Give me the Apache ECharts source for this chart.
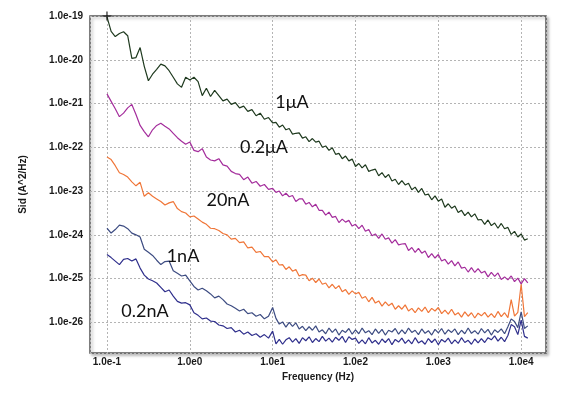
<!DOCTYPE html>
<html>
<head>
<meta charset="utf-8">
<script src="https://cdn.jsdelivr.net/npm/echarts@6/dist/echarts.min.js"></script>
<style>
  html, body { margin: 0; background: #fff; }
  #chart { width: 581px; height: 398px; }
</style>
</head>
<body>
<div id="chart"></div>
<script>
// x: log10 of frequency (Hz)
const logFreq = [
  -1.00,-0.95,-0.90,-0.85,-0.80,-0.75,-0.70,-0.65,-0.60,-0.55,-0.50,-0.45,-0.40,-0.35,-0.30,-0.25,-0.20,-0.15,-0.10,-0.05,
  0.00,0.05,0.10,0.15,0.20,0.25,0.30,0.35,0.40,0.45,0.50,0.55,0.60,0.65,0.70,0.75,0.80,0.85,0.90,0.95,1.00,
  1.04,1.08,1.12,1.16,1.20,1.24,1.28,1.32,1.36,1.40,1.44,1.48,1.52,1.56,1.60,1.64,1.68,1.72,1.76,1.80,
  1.84,1.88,1.92,1.96,2.00,2.04,2.08,2.12,2.16,2.20,2.24,2.28,2.32,2.36,2.40,2.44,2.48,2.52,2.56,2.60,
  2.64,2.68,2.72,2.76,2.80,2.84,2.88,2.92,2.96,3.00,3.04,3.08,3.12,3.16,3.20,3.24,3.28,3.32,3.36,3.40,
  3.44,3.48,3.52,3.56,3.60,3.64,3.68,3.72,3.76,3.80,3.84,3.88,3.92,3.96,4.00,4.04,4.08
];

// y: log10 of Sid (A^2/Hz), one array per bias current
const sid1uA = [
  -19.02,-19.35,-19.47,-19.40,-19.36,-19.45,-19.97,-19.95,-19.72,-20.15,-20.48,-20.33,-20.22,-20.10,-20.14,-20.25,-20.40,-20.55,-20.63,-20.40,
  -20.46,-20.40,-20.50,-20.82,-20.65,-20.84,-20.70,-20.82,-20.94,-20.90,-21.02,-20.98,-21.10,-21.06,-21.18,-21.14,-21.28,-21.22,-21.36,-21.32,-21.44,
  -21.43,-21.54,-21.49,-21.60,-21.57,-21.70,-21.68,-21.67,-21.79,-21.76,-21.87,-21.80,-21.88,-21.86,-22.00,-21.97,-22.07,-22.01,-22.16,-22.14,
  -22.26,-22.20,-22.31,-22.27,-22.44,-22.37,-22.47,-22.40,-22.55,-22.52,-22.50,-22.65,-22.58,-22.69,-22.62,-22.77,-22.73,-22.85,-22.76,-22.86,
  -22.82,-22.97,-22.91,-23.03,-22.94,-23.09,-23.07,-23.20,-23.11,-23.23,-23.18,-23.37,-23.29,-23.39,-23.34,-23.49,-23.44,-23.56,-23.48,-23.59,
  -23.52,-23.66,-23.65,-23.76,-23.66,-23.79,-23.73,-23.85,-23.74,-23.86,-23.83,-23.99,-23.92,-24.05,-23.98,-24.12,-24.09
];
const sid02uA = [
  -20.78,-20.95,-21.12,-21.30,-21.22,-21.10,-21.02,-21.25,-21.50,-21.64,-21.76,-21.60,-21.50,-21.45,-21.52,-21.58,-21.68,-21.78,-21.86,-21.93,
  -21.88,-22.07,-22.10,-22.03,-22.22,-22.29,-22.31,-22.26,-22.40,-22.43,-22.55,-22.60,-22.62,-22.74,-22.68,-22.82,-22.78,-22.89,-22.85,-22.96,-22.94,
  -23.03,-23.00,-23.11,-23.05,-23.13,-23.10,-23.24,-23.18,-23.18,-23.30,-23.26,-23.36,-23.30,-23.44,-23.44,-23.55,-23.48,-23.60,-23.58,-23.72,
  -23.64,-23.71,-23.67,-23.80,-23.76,-23.86,-23.78,-23.92,-23.88,-24.02,-23.98,-24.08,-23.98,-24.10,-24.07,-24.19,-24.11,-24.23,-24.21,-24.20,
  -24.36,-24.29,-24.40,-24.31,-24.42,-24.37,-24.52,-24.43,-24.53,-24.45,-24.60,-24.56,-24.67,-24.59,-24.71,-24.62,-24.76,-24.74,-24.85,-24.75,
  -24.86,-24.77,-24.87,-24.83,-24.96,-24.86,-24.95,-24.87,-25.02,-24.96,-25.03,-24.94,-25.07,-24.99,-25.12,-25.00,-25.10
];
const sid20nA = [
  -22.22,-22.28,-22.42,-22.58,-22.62,-22.68,-22.79,-22.88,-22.80,-23.12,-23.04,-23.12,-23.18,-23.24,-23.32,-23.27,-23.24,-23.40,-23.47,-23.50,
  -23.59,-23.57,-23.64,-23.71,-23.76,-23.85,-23.86,-23.90,-23.97,-24.00,-24.10,-24.08,-24.18,-24.16,-24.30,-24.28,-24.40,-24.38,-24.50,-24.50,-24.62,
  -24.57,-24.69,-24.68,-24.79,-24.73,-24.83,-24.79,-24.94,-24.91,-24.92,-25.05,-24.99,-25.09,-25.01,-25.13,-25.10,-25.21,-25.13,-25.23,-25.16,
  -25.30,-25.25,-25.36,-25.28,-25.35,-25.31,-25.45,-25.41,-25.53,-25.43,-25.56,-25.51,-25.63,-25.53,-25.62,-25.56,-25.70,-25.62,-25.70,-25.60,
  -25.74,-25.68,-25.78,-25.67,-25.75,-25.65,-25.78,-25.68,-25.74,-25.66,-25.80,-25.72,-25.81,-25.70,-25.83,-25.78,-25.88,-25.76,-25.86,-25.78,
  -25.90,-25.79,-25.85,-25.77,-25.88,-25.80,-25.89,-25.75,-25.87,-25.78,-25.89,-25.48,-25.86,-25.77,-25.13,-25.87,-25.78
];
const sid1nA = [
  -23.85,-23.96,-23.88,-23.78,-23.80,-23.86,-23.96,-24.00,-24.05,-24.33,-24.40,-24.47,-24.58,-24.68,-24.61,-24.60,-24.82,-24.88,-24.94,-24.92,
  -25.05,-25.18,-25.26,-25.22,-25.28,-25.35,-25.44,-25.40,-25.48,-25.58,-25.62,-25.68,-25.74,-25.70,-25.80,-25.78,-25.86,-25.82,-25.92,-25.86,-25.66,
  -25.91,-26.04,-25.99,-26.11,-26.00,-26.09,-26.01,-26.15,-26.09,-26.19,-26.10,-26.18,-26.08,-26.22,-26.17,-26.26,-26.13,-26.23,-26.15,-26.29,
  -26.18,-26.23,-26.14,-26.27,-26.17,-26.26,-26.13,-26.24,-26.19,-26.28,-26.15,-26.25,-26.16,-26.29,-26.18,-26.22,-26.14,-26.27,-26.17,-26.26,
  -26.13,-26.23,-26.18,-26.28,-26.15,-26.25,-26.19,-26.29,-26.16,-26.24,-26.14,-26.27,-26.17,-26.23,-26.15,-26.28,-26.18,-26.26,-26.13,-26.25,
  -26.19,-26.27,-26.14,-26.24,-26.16,-26.29,-26.17,-26.23,-26.15,-26.26,-26.10,-25.92,-25.98,-26.12,-25.76,-26.14,-26.08
];
const sid02nA = [
  -24.45,-24.52,-24.60,-24.68,-24.56,-24.54,-24.60,-24.55,-24.76,-24.92,-25.01,-25.05,-25.10,-25.20,-25.30,-25.26,-25.40,-25.52,-25.56,-25.55,
  -25.60,-25.78,-25.84,-25.92,-25.90,-25.97,-25.98,-26.06,-26.08,-26.14,-26.12,-26.22,-26.18,-26.27,-26.22,-26.30,-26.26,-26.34,-26.28,-26.36,-26.20,
  -26.49,-26.39,-26.50,-26.40,-26.35,-26.45,-26.37,-26.48,-26.35,-26.42,-26.33,-26.46,-26.37,-26.44,-26.32,-26.43,-26.36,-26.45,-26.34,-26.41,
  -26.32,-26.46,-26.33,-26.39,-26.36,-26.48,-26.40,-26.49,-26.35,-26.47,-26.41,-26.50,-26.38,-26.46,-26.37,-26.51,-26.39,-26.45,-26.36,-26.48,
  -26.40,-26.49,-26.35,-26.47,-26.42,-26.50,-26.37,-26.46,-26.38,-26.51,-26.39,-26.45,-26.36,-26.49,-26.40,-26.48,-26.35,-26.46,-26.41,-26.50,
  -26.38,-26.47,-26.37,-26.46,-26.35,-26.40,-26.31,-26.43,-26.34,-26.44,-26.30,-26.05,-26.10,-26.28,-25.95,-26.32,-26.36
];

const seriesNames = ["1μA", "0.2μA", "20nA", "1nA", "0.2nA"];
const seriesValues = [sid1uA, sid02uA, sid20nA, sid1nA, sid02nA];
const seriesColors = ["#1f3a1f", "#a42d9c", "#f07638", "#3d4c82", "#2f2f8c"];

const expLabel = v => Math.abs(v - Math.round(v)) < 1e-6 ? "1.0e" + Math.round(v) : "";
const tickText = {color: "#1a1a1a", fontSize: 10, fontWeight: "bold", fontFamily: "Liberation Sans"};
const gridLine = {show: true, lineStyle: {color: "#b4b4b4", width: 1, type: [2, 2]}};
const curveFont = "18px Lato, 'Noto Sans', sans-serif";

const chart = echarts.init(document.getElementById("chart"));
chart.setOption({
    animation: false,
    grid: {
        left: 90, top: 16, right: 35, bottom: 45,
        show: true,
        backgroundColor: "#fff",
        borderColor: "#555",
        borderWidth: 1.5,
        shadowColor: "rgba(0,0,0,0.25)",
        shadowBlur: 3,
        shadowOffsetX: 2,
        shadowOffsetY: 2,
        outerBoundsMode: "none"
    },
    xAxis: {
        type: "value",
        min: -1.205,
        max: 4.30,
        minInterval: 1,
        maxInterval: 1,
        axisLine: {show: false},
        axisTick: {show: false},
        splitLine: gridLine,
        axisLabel: Object.assign({formatter: expLabel, margin: 4}, tickText),
        name: "Frequency (Hz)",
        nameLocation: "middle",
        nameGap: 18,
        nameTextStyle: tickText
    },
    yAxis: {
        type: "value",
        min: -26.70,
        max: -19,
        minInterval: 1,
        maxInterval: 1,
        axisLine: {show: false},
        axisTick: {show: false},
        splitLine: gridLine,
        axisLabel: Object.assign({formatter: expLabel, margin: 7, showMinLabel: false}, tickText),
        name: "Sid (A^2/Hz)",
        nameLocation: "middle",
        nameGap: 62,
        nameTextStyle: tickText
    },
    series: seriesNames.map((name, k) => ({
        name: name,
        type: "line",
        symbol: "none",
        lineStyle: {width: 1.2, color: seriesColors[k]},
        itemStyle: {color: seriesColors[k]},
        data: logFreq.map((f, i) => [f, seriesValues[k][i]]),
        markPoint: k === 0 ? {
            symbol: "path://M0,4.4H10V5.6H0Z M4.4,0H5.6V10H4.4Z",
            symbolSize: 9,
            itemStyle: {color: "#111"},
            label: {show: false},
            data: [{coord: [logFreq[0], -19]}]
        } : undefined
    })),
    graphic: [
        ["1μA", 292, 102],
        ["0.2μA", 264, 147],
        ["20nA", 228, 200],
        ["1nA", 183, 256],
        ["0.2nA", 145, 311]
    ].map(([t, x, y]) => ({
        type: "text",
        x: x, y: y,
        z: 100,
        style: {
            text: t, font: curveFont, fill: "#111",
            align: "center", verticalAlign: "middle",
            textAlign: "center", textVerticalAlign: "middle"
        }
    }))
});
</script>
</body>
</html>
